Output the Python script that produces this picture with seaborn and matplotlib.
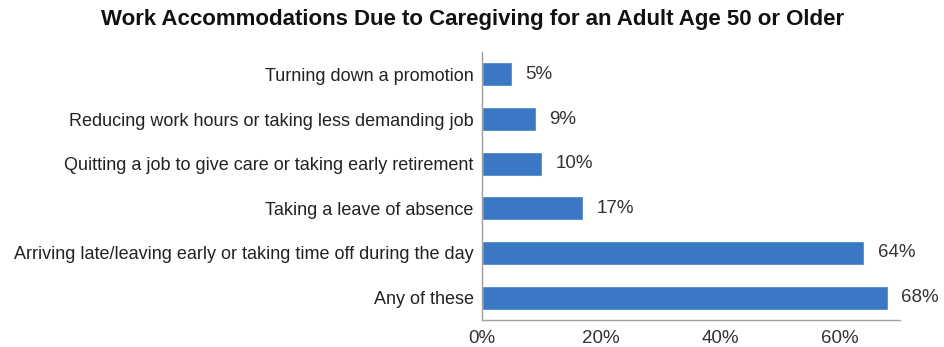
import matplotlib
matplotlib.use("Agg")
import matplotlib.pyplot as plt
import seaborn as sns
import pandas as pd
from matplotlib.ticker import FuncFormatter, FixedLocator

categories = [
    "Turning down a promotion",
    "Reducing work hours or taking less demanding job",
    "Quitting a job to give care or taking early retirement",
    "Taking a leave of absence",
    "Arriving late/leaving early or taking time off during the day",
    "Any of these",
]
values = [5, 9, 10, 17, 64, 68]
xticks = [0, 20, 40, 60]

df = pd.DataFrame({"category": categories, "value": values})

sns.set_theme(style="white")
plt.rcParams['font.family'] = ['Liberation Sans', 'DejaVu Sans']

fig = plt.figure(figsize=(9.45, 3.47), dpi=100)
ax = fig.add_axes([0.51, 0.078, 0.442, 0.772])

sns.barplot(data=df, x="value", y="category", orient="h", color="#3a78c3",
            saturation=1, width=0.54, ax=ax)

ax.set_xlim(0, 70)
ax.set_ylim(5.5, -0.5)
ax.xaxis.set_major_locator(FixedLocator(xticks))
ax.xaxis.set_major_formatter(FuncFormatter(lambda v, p: f"{int(v)}%"))
ax.set_xlabel("")
ax.set_ylabel("")

for i, v in enumerate(values):
    ax.text(v + 2.3, i, f"{v}%", va="center", ha="left", fontsize=13.5, color="#333333")

for s in ["top", "right"]:
    ax.spines[s].set_visible(False)
for s in ["left", "bottom"]:
    ax.spines[s].set_color("#a0a0a0")
    ax.spines[s].set_linewidth(1)

ax.tick_params(axis="x", which="major", length=4, direction="inout", color="#a0a0a0",
               labelsize=13.5, labelcolor="#333333", pad=5)
ax.tick_params(axis="y", which="major", length=0, labelsize=13, labelcolor="#222222", pad=6)
ax.set_yticks([i + 0.5 for i in range(-1, 6)], minor=True)
ax.tick_params(axis="y", which="minor", length=4, color="#a0a0a0")

fig.suptitle("Work Accommodations Due to Caregiving for an Adult Age 50 or Older",
             x=0.5, y=0.975, fontsize=16, fontweight="bold", color="#111111")

fig.savefig("out.png", dpi=100, facecolor="white")
